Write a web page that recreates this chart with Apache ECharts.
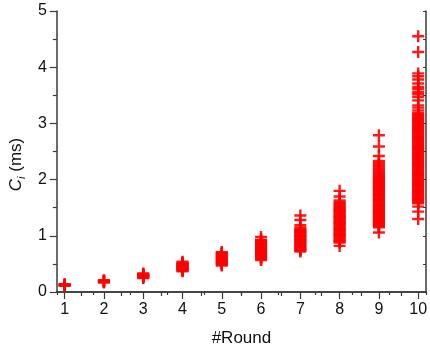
<!DOCTYPE html>
<html>
<head>
<meta charset="utf-8">
<script src="https://cdn.jsdelivr.net/npm/echarts@6/dist/echarts.min.js"></script>
<style>html,body{margin:0;padding:0;background:#fff;}#c{width:430px;height:352px;}</style>
</head>
<body>
<div id="c"></div>
<script>
const rounds = [1, 2, 3, 4, 5, 6, 7, 8, 9, 10];
const xTickLabels = ['1', '2', '3', '4', '5', '6', '7', '8', '9', '10'];
const yTickLabels = ['0', '1', '2', '3', '4', '5'];

const round1 = [0.11, 0.12, 0.13, 0.13, 0.14];
const round2 = [0.17, 0.18, 0.19, 0.19, 0.2, 0.21];
const round3 = [0.25, 0.26, 0.27, 0.28, 0.28, 0.29, 0.3, 0.3, 0.31, 0.32, 0.33];
const round4 = [0.37, 0.38, 0.39, 0.4, 0.41, 0.42, 0.43, 0.44, 0.45, 0.46, 0.47, 0.48, 0.49, 0.5, 0.51, 0.52, 0.54];
const round5 = [0.47, 0.49, 0.5, 0.52, 0.53, 0.55, 0.56, 0.58, 0.59, 0.61, 0.62, 0.64, 0.65, 0.67, 0.68, 0.7, 0.71];
const round6 = [0.57, 0.59, 0.6, 0.62, 0.63, 0.65, 0.66, 0.68, 0.7, 0.71, 0.73, 0.75, 0.76, 0.78, 0.8, 0.81, 0.83, 0.85, 0.86, 0.88, 0.9, 0.92, 0.93, 0.98];
const round7 = [0.72, 0.74, 0.75, 0.77, 0.79, 0.8, 0.82, 0.84, 0.85, 0.87, 0.89, 0.9, 0.92, 0.94, 0.95, 0.97, 0.99, 1.0, 1.02, 1.04, 1.05, 1.07, 1.09, 1.1, 1.12, 1.15, 1.19, 1.28, 1.36];
const round8 = [0.82, 0.88, 0.9, 0.91, 0.93, 0.95, 0.97, 0.99, 1.01, 1.02, 1.04, 1.06, 1.08, 1.1, 1.12, 1.13, 1.15, 1.17, 1.19, 1.21, 1.23, 1.24, 1.26, 1.28, 1.3, 1.32, 1.34, 1.35, 1.37, 1.39, 1.41, 1.43, 1.45, 1.46, 1.48, 1.5, 1.52, 1.54, 1.56, 1.58, 1.6, 1.63, 1.7, 1.8];
const round9 = [1.06, 1.15, 1.17, 1.19, 1.2, 1.22, 1.24, 1.26, 1.28, 1.3, 1.31, 1.33, 1.35, 1.37, 1.39, 1.41, 1.42, 1.44, 1.46, 1.48, 1.5, 1.52, 1.53, 1.55, 1.57, 1.59, 1.61, 1.63, 1.64, 1.66, 1.68, 1.7, 1.72, 1.74, 1.75, 1.77, 1.79, 1.81, 1.83, 1.85, 1.86, 1.88, 1.9, 1.92, 1.94, 1.96, 1.97, 1.99, 2.01, 2.03, 2.05, 2.07, 2.09, 2.11, 2.13, 2.16, 2.18, 2.21, 2.24, 2.27, 2.3, 2.33, 2.42, 2.59, 2.79];
const round10 = [1.3, 1.43, 1.52, 1.58, 1.6, 1.62, 1.64, 1.66, 1.68, 1.7, 1.72, 1.74, 1.76, 1.78, 1.8, 1.82, 1.84, 1.86, 1.88, 1.9, 1.92, 1.94, 1.96, 1.98, 2.0, 2.02, 2.04, 2.06, 2.08, 2.1, 2.12, 2.14, 2.16, 2.18, 2.2, 2.22, 2.24, 2.26, 2.28, 2.3, 2.32, 2.34, 2.36, 2.38, 2.4, 2.42, 2.44, 2.46, 2.48, 2.5, 2.52, 2.54, 2.56, 2.58, 2.6, 2.62, 2.64, 2.66, 2.68, 2.7, 2.72, 2.74, 2.76, 2.78, 2.8, 2.82, 2.84, 2.86, 2.88, 2.9, 2.92, 2.94, 2.96, 2.98, 3.0, 3.02, 3.04, 3.06, 3.08, 3.1, 3.12, 3.14, 3.16, 3.18, 3.23, 3.28, 3.32, 3.41, 3.47, 3.52, 3.56, 3.61, 3.65, 3.71, 3.78, 3.84, 3.89, 4.27, 4.55];

const roundValues = [round1, round2, round3, round4, round5, round6, round7, round8, round9, round10];

const points = [];
rounds.forEach(function (r, i) {
  roundValues[i].forEach(function (v) { points.push([r, v]); });
});
const halfTicks = rounds.slice(0, -1).map(function (r) { return r + 0.5; });

const FONT = "'Liberation Sans', Arial, sans-serif";
const AX = '#3a3a3a';
const plus = 'path://M4.8,0H7.2V4.8H12V7.2H7.2V12H4.8V7.2H0V4.8H4.8Z';

const chart = echarts.init(document.getElementById('c'), null, { renderer: 'canvas' });
chart.setOption({
  animation: false,
  backgroundColor: '#fff',
  grid: [
    { left: 53, right: 1, top: 11, bottom: 60, containLabel: false },
    { left: 53, right: 1, top: 11, bottom: 60, containLabel: false }
  ],
  xAxis: [
    {
      gridIndex: 0, type: 'value', position: 'bottom', min: 0.8, max: 10.2,
      splitLine: { show: false },
      axisLine: { show: true, lineStyle: { color: AX, width: 1.5 } },
      axisTick: { show: true, inside: false, length: 7, customValues: rounds, lineStyle: { color: AX, width: 1.2 } },
      axisLabel: { show: true, margin: 10, customValues: rounds, color: '#111', fontSize: 16, fontFamily: FONT,
        formatter: function (v) { return xTickLabels[rounds.indexOf(Math.round(v))]; } },
      name: '#Round', nameLocation: 'middle', nameGap: 38,
      nameTextStyle: { color: '#111', fontSize: 17, fontFamily: FONT }
    },
    {
      gridIndex: 0, type: 'value', position: 'top', min: 0, max: 10, interval: 1,
      splitLine: { show: false },
      axisLine: { show: true, lineStyle: { color: AX, width: 1.5 } },
      axisTick: { show: true, inside: true, length: 3, lineStyle: { color: AX, width: 1.2 } },
      axisLabel: { show: false }
    },
    {
      gridIndex: 1, type: 'value', position: 'bottom', min: 0.8, max: 10.2,
      splitLine: { show: false },
      axisLine: { show: false },
      axisTick: { show: true, inside: false, length: 4, customValues: halfTicks, lineStyle: { color: AX, width: 1.2 } },
      axisLabel: { show: false, customValues: halfTicks }
    }
  ],
  yAxis: [
    {
      gridIndex: 0, type: 'value', position: 'left', min: 0, max: 5, interval: 1,
      splitLine: { show: false },
      axisLine: { show: true, lineStyle: { color: AX, width: 1.5 } },
      axisTick: { show: true, inside: false, length: 7, lineStyle: { color: AX, width: 1.2 } },
      minorTick: { show: true, splitNumber: 2, length: 4, lineStyle: { color: AX, width: 1.2 } },
      axisLabel: { margin: 10, color: '#111', fontSize: 16, fontFamily: FONT,
        formatter: function (v) { return yTickLabels[Math.round(v)]; } },
      name: '{c|C}{s|i} (ms)', nameLocation: 'middle', nameGap: 28, nameRotate: 90,
      nameTextStyle: {
        color: '#111', fontSize: 17, fontFamily: FONT, padding: [0, 26, 0, 0],
        rich: {
          c: { fontStyle: 'italic', fontSize: 17, fontFamily: FONT, color: '#111' },
          s: { fontStyle: 'italic', fontSize: 11, fontFamily: FONT, color: '#111', padding: [10, 0, 0, 0] }
        }
      }
    },
    {
      gridIndex: 0, type: 'value', position: 'right', min: 0, max: 5, interval: 0.5,
      splitLine: { show: false },
      axisLine: { show: true, lineStyle: { color: AX, width: 1.5 } },
      axisTick: { show: true, inside: true, length: 3, lineStyle: { color: AX, width: 1 } },
      axisLabel: { show: false }
    },
    {
      gridIndex: 1, type: 'value', min: 0, max: 5, show: false
    }
  ],
  series: [
    {
      type: 'scatter', xAxisIndex: 0, yAxisIndex: 0,
      symbol: plus, symbolSize: [12, 12],
      itemStyle: { color: '#ff0000', opacity: 0.9 },
      data: points
    }
  ]
});
</script>
</body>
</html>
